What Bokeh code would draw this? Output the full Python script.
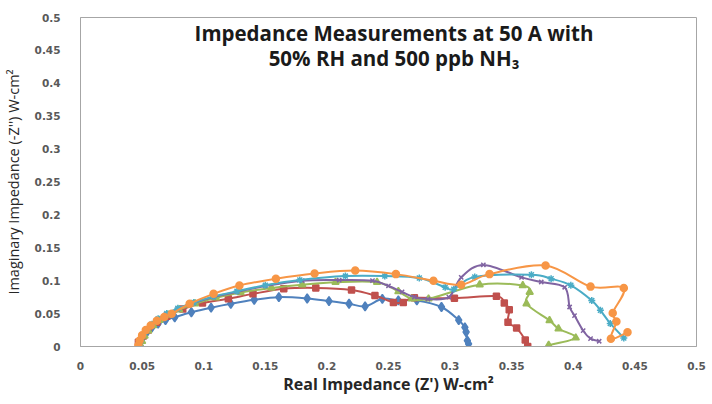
from bokeh.plotting import figure
from bokeh.models import Range1d, FixedTicker, Label
from bokeh.embed import file_html
from bokeh.resources import INLINE

# Nyquist data: real (x) and imaginary (-Z'', y) impedance in ohm-cm^2
blue_x = [0.048, 0.049, 0.051, 0.054, 0.058, 0.063, 0.069, 0.0765, 0.090, 0.106, 0.122, 0.141,
          0.161, 0.184, 0.2017, 0.218, 0.231, 0.245, 0.258, 0.273, 0.293, 0.307, 0.312, 0.313,
          0.314, 0.315]
blue_y = [0.002, 0.008, 0.015, 0.022, 0.029, 0.035, 0.040, 0.0445, 0.052, 0.059, 0.065, 0.071,
          0.075, 0.073, 0.069, 0.065, 0.061, 0.0725, 0.070, 0.070, 0.060, 0.040, 0.029, 0.022,
          0.009, 0.004]

red_x = [0.047, 0.051, 0.055, 0.062, 0.070, 0.083, 0.099, 0.120, 0.140, 0.165, 0.191, 0.220,
         0.239, 0.254, 0.262, 0.271, 0.3035, 0.3376, 0.344, 0.348, 0.347, 0.354, 0.361, 0.363]
red_y = [0.0065, 0.016, 0.025, 0.037, 0.046, 0.057, 0.066, 0.0725, 0.080, 0.0877, 0.089, 0.086,
         0.0775, 0.067, 0.067, 0.074, 0.0734, 0.0764, 0.066, 0.056, 0.037, 0.028, 0.010, 0.0]

green_x = [0.049, 0.050, 0.052, 0.055, 0.059, 0.064, 0.071, 0.080, 0.093, 0.110, 0.130, 0.155,
           0.180, 0.207, 0.2407, 0.258, 0.269, 0.2825, 0.324, 0.359, 0.3646, 0.362, 0.3807,
           0.388, 0.402, 0.380]
green_y = [0.001, 0.008, 0.016, 0.024, 0.032, 0.040, 0.048, 0.056, 0.065, 0.074, 0.082, 0.089,
           0.094, 0.0977, 0.0977, 0.0836, 0.0725, 0.0725, 0.094, 0.0927, 0.0825, 0.065, 0.0395,
           0.027, 0.0132, 0.002]

purple_x = [0.048, 0.049, 0.051, 0.054, 0.058, 0.063, 0.070, 0.079, 0.092, 0.108, 0.127, 0.150,
            0.180, 0.210, 0.237, 0.250, 0.261, 0.271, 0.282, 0.299, 0.309, 0.327, 0.358, 0.374,
            0.393, 0.397, 0.401, 0.408, 0.414, 0.421]
purple_y = [0.001, 0.009, 0.017, 0.025, 0.033, 0.041, 0.049, 0.057, 0.066, 0.075, 0.083, 0.092,
            0.100, 0.101, 0.100, 0.092, 0.083, 0.075, 0.072, 0.075, 0.105, 0.124, 0.105, 0.098,
            0.090, 0.060, 0.047, 0.024, 0.012, 0.008]

aqua_x = [0.048, 0.049, 0.051, 0.054, 0.058, 0.063, 0.070, 0.079, 0.092, 0.108, 0.127, 0.150,
          0.178, 0.215, 0.247, 0.275, 0.296, 0.303, 0.320, 0.366, 0.382, 0.398, 0.415, 0.422,
          0.430, 0.441]
aqua_y = [0.001, 0.009, 0.018, 0.026, 0.034, 0.042, 0.050, 0.058, 0.067, 0.076, 0.084, 0.093,
          0.101, 0.107, 0.107, 0.104, 0.090, 0.087, 0.1057, 0.109, 0.103, 0.093, 0.070, 0.055,
          0.035, 0.013]

orange_x = [0.047, 0.048, 0.050, 0.053, 0.057, 0.062, 0.068, 0.074, 0.0886, 0.108, 0.129, 0.1586,
            0.190, 0.223, 0.256, 0.2865, 0.309, 0.332, 0.3775, 0.414, 0.441, 0.432, 0.435,
            0.4305, 0.444]
orange_y = [0.002, 0.009, 0.017, 0.025, 0.032, 0.039, 0.045, 0.0497, 0.065, 0.080, 0.0927, 0.103,
            0.111, 0.1155, 0.110, 0.100, 0.094, 0.110, 0.123, 0.091, 0.089, 0.051, 0.038,
            0.0117, 0.0217]

axis_ticks = [0, 0.05, 0.1, 0.15, 0.2, 0.25, 0.3, 0.35, 0.4, 0.45, 0.5]
axis_tick_labels = ["0", "0.05", "0.1", "0.15", "0.2", "0.25", "0.3", "0.35", "0.4", "0.45", "0.5"]

title_lines = ["Impedance Measurements at 50 A with", "50% RH and 500 ppb NH\u2083"]
x_title = "Real Impedance (Z') W-cm\u00b2"
y_title = "Imaginary Impedance (-Z'') W-cm\u00b2"

series = [
    (blue_x, blue_y, "#4F81BD", "diamond", 9),
    (red_x, red_y, "#C0504D", "square", 6),
    (green_x, green_y, "#9BBB59", "triangle", 7),
    (purple_x, purple_y, "#8064A2", "x", 6),
    (aqua_x, aqua_y, "#4BACC6", "asterisk", 7),
    (orange_x, orange_y, "#F79646", "circle", 7),
]


def smooth_segments(xs, ys):
    """Cubic Bezier control points (Catmull-Rom style) for a smoothed line."""
    n = len(xs)
    seg = dict(x0=[], y0=[], x1=[], y1=[], cx0=[], cy0=[], cx1=[], cy1=[])
    for i in range(n - 1):
        xp, yp = (xs[i - 1], ys[i - 1]) if i > 0 else (xs[i], ys[i])
        xn, yn = (xs[i + 2], ys[i + 2]) if i + 2 < n else (xs[i + 1], ys[i + 1])
        seg["x0"].append(xs[i]); seg["y0"].append(ys[i])
        seg["x1"].append(xs[i + 1]); seg["y1"].append(ys[i + 1])
        seg["cx0"].append(xs[i] + (xs[i + 1] - xp) / 6.0)
        seg["cy0"].append(ys[i] + (ys[i + 1] - yp) / 6.0)
        seg["cx1"].append(xs[i + 1] - (xn - xs[i]) / 6.0)
        seg["cy1"].append(ys[i + 1] - (yn - ys[i]) / 6.0)
    return seg


p = figure(width=712, height=404, output_backend="svg", toolbar_location=None,
           x_range=Range1d(0, 0.5), y_range=Range1d(0, 0.5),
           min_border_left=77, min_border_right=16, min_border_top=17, min_border_bottom=58)
p.background_fill_color = "white"
p.border_fill_color = "white"
p.outline_line_color = "#a6a6a6"
p.outline_line_width = 1
p.grid.visible = False

for ax in (p.xaxis[0], p.yaxis[0]):
    ax.ticker = FixedTicker(ticks=axis_ticks)
    ax.major_label_overrides = {t: s for t, s in zip(axis_ticks, axis_tick_labels)}
    ax.major_tick_line_color = None
    ax.minor_tick_line_color = None
    ax.axis_line_color = "#a6a6a6"
    ax.major_label_text_font = "DejaVu Sans"
    ax.major_label_text_font_style = "bold"
    ax.major_label_text_font_size = "10.5px"
    ax.major_label_text_color = "#595959"
    ax.axis_label_text_color = "#262626"
    ax.axis_label_text_font = "Open Sans"

p.xaxis.axis_label = x_title
p.xaxis.axis_label_text_font_style = "bold"
p.xaxis.axis_label_text_font_size = "16px"
p.xaxis.major_label_standoff = 9
p.xaxis.axis_label_standoff = 0

p.yaxis.axis_label = y_title
p.yaxis.axis_label_text_font_style = "normal"
p.yaxis.axis_label_text_font_size = "14.5px"
p.yaxis.major_label_standoff = 14
p.yaxis.axis_label_standoff = 9

for xs, ys, color, marker, size in series:
    seg = smooth_segments(xs, ys)
    p.bezier(x0=seg["x0"], y0=seg["y0"], x1=seg["x1"], y1=seg["y1"],
             cx0=seg["cx0"], cy0=seg["cy0"], cx1=seg["cx1"], cy1=seg["cy1"],
             line_color=color, line_width=2)
    p.scatter(xs, ys, marker=marker, size=size, fill_color=color, line_color=color,
              line_width=1.5)

for line, ypos in zip(title_lines, [0.477, 0.439]):
    p.add_layout(Label(x=0.2545, y=ypos, text=line, text_align="center",
                       text_baseline="middle", text_font="Open Sans",
                       text_font_style="bold", text_font_size="20.5px",
                       text_color="#1a1a1a"))

open("out.html", "w").write(file_html(p, INLINE))
